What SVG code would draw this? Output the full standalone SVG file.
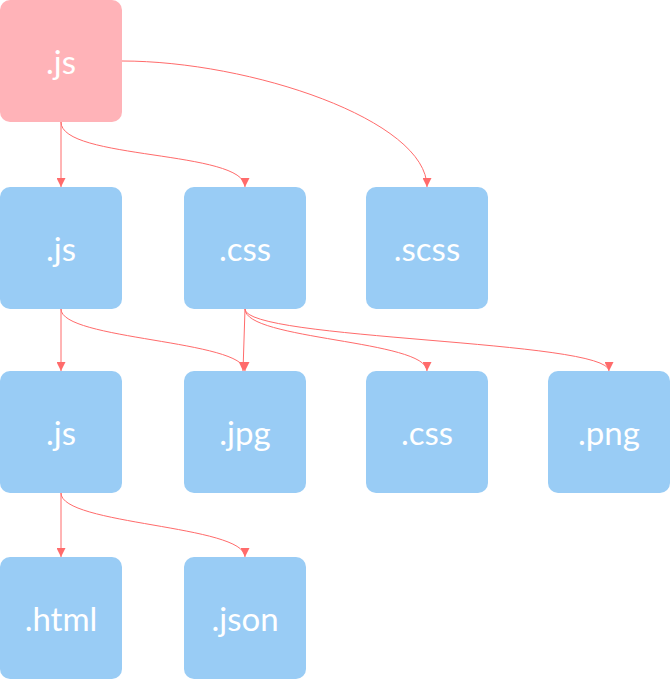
<svg xmlns="http://www.w3.org/2000/svg" width="670" height="680" viewBox="0 0 670 680">
<defs>
<style>
.box{fill:#99CCF5}
.root{fill:#FFB3B8}
.lbl{fill:#FFFFFF;font-family:Lato,"Open Sans",sans-serif;font-size:33px;text-anchor:middle}
.edge{fill:none;stroke:#FF6B6B;stroke-width:1;marker-end:url(#arr)}
</style>
<marker id="arr" viewBox="0 0 10 10" refX="10" refY="5" markerWidth="9" markerHeight="9" markerUnits="userSpaceOnUse" orient="auto">
<path d="M0,0 L10,5 L0,10 z" fill="#FF6B6B"/>
</marker>
</defs>
<rect width="670" height="680" fill="#FFFFFF"/>
<g id="connectors">
<path class="edge" d="M61,122 L61,187"/>
<path class="edge" d="M61,122 C61,160 245,150 245,187"/>
<path class="edge" d="M122,61 C250,61 427,120 427,187"/>
<path class="edge" d="M61,309 L61,371"/>
<path class="edge" d="M61,309 C61,340 245,340 245,371"/>
<path class="edge" d="M245,309 L243,371"/>
<path class="edge" d="M245,309 C245,340 427,340 427,371"/>
<path class="edge" d="M245,309 C245,340 609,340 609,371"/>
<path class="edge" d="M61,493 L61,557"/>
<path class="edge" d="M61,493 C61,525 245,525 245,557"/>
</g>
<g id="n_root"><rect class="root" x="0" y="0" width="122" height="122" rx="10"/><text class="lbl" x="61" y="74">.js</text></g>
<g id="n_js2"><rect class="box" x="0" y="187" width="122" height="122" rx="10"/><text class="lbl" x="61" y="261">.js</text></g>
<g id="n_css2"><rect class="box" x="184" y="187" width="122" height="122" rx="10"/><text class="lbl" x="245" y="261">.css</text></g>
<g id="n_scss"><rect class="box" x="366" y="187" width="122" height="122" rx="10"/><text class="lbl" x="427" y="261">.scss</text></g>
<g id="n_js3"><rect class="box" x="0" y="371" width="122" height="122" rx="10"/><text class="lbl" x="61" y="445">.js</text></g>
<g id="n_jpg"><rect class="box" x="184" y="371" width="122" height="122" rx="10"/><text class="lbl" x="245" y="445">.jpg</text></g>
<g id="n_css3"><rect class="box" x="366" y="371" width="122" height="122" rx="10"/><text class="lbl" x="427" y="445">.css</text></g>
<g id="n_png"><rect class="box" x="548" y="371" width="122" height="122" rx="10"/><text class="lbl" x="609" y="445">.png</text></g>
<g id="n_html"><rect class="box" x="0" y="557" width="122" height="122" rx="10"/><text class="lbl" x="61" y="631">.html</text></g>
<g id="n_json"><rect class="box" x="184" y="557" width="122" height="122" rx="10"/><text class="lbl" x="245" y="631">.json</text></g>
</svg>
